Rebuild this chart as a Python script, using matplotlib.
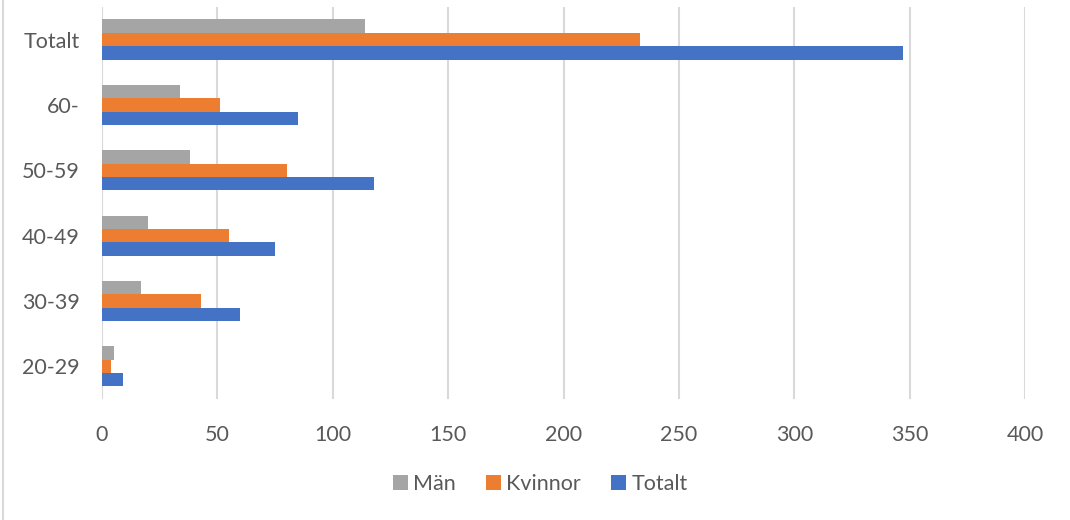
import matplotlib.pyplot as plt
import numpy as np

plt.rcParams['font.family'] = ['Lato', 'DejaVu Sans']

categories = ['20-29', '30-39', '40-49', '50-59', '60-', 'Totalt']
man = [5, 17, 20, 38, 34, 114]
kvinnor = [4, 43, 55, 80, 51, 233]
totalt = [9, 60, 75, 118, 85, 347]
xticks = [0, 50, 100, 150, 200, 250, 300, 350, 400]

fig = plt.figure(figsize=(10.7, 5.2), dpi=100)
ax = fig.add_axes([0.0953, 0.2327, 0.8627, 0.754])

y = np.arange(len(categories))
h = 0.205
ax.barh(y - h, totalt, height=h, color='#4472C4', label='Totalt', zorder=3)
ax.barh(y, kvinnor, height=h, color='#ED7D31', label='Kvinnor', zorder=3)
ax.barh(y + h, man, height=h, color='#A5A5A5', label='Män', zorder=3)

ax.set_xlim(0, 400)
ax.set_ylim(-0.5, len(categories) - 0.5)
ax.set_xticks(xticks)
ax.set_yticks(y)
ax.set_yticklabels(categories)
ax.grid(axis='x', color='#D9D9D9', linewidth=1.5, zorder=0)
ax.set_axisbelow(True)
for s in ax.spines.values():
    s.set_visible(False)
ax.tick_params(axis='both', length=0, labelsize=15.5, labelcolor='#595959')
ax.tick_params(axis='y', pad=16)
ax.tick_params(axis='x', pad=19)

handles, labels = ax.get_legend_handles_labels()
order = [2, 1, 0]
fig.legend([handles[i] for i in order], [labels[i] for i in order],
           loc='center', bbox_to_anchor=(0.505, 0.069), ncol=3, frameon=False,
           fontsize=15.5, labelcolor='#595959', handlelength=0.7, handleheight=0.7,
           handletextpad=0.25, columnspacing=1.4)

fig.add_artist(plt.Line2D([0.003, 0.003], [0, 1], color='#D9D9D9', linewidth=1.5,
                          transform=fig.transFigure))

fig.savefig('out.png', dpi=100)
